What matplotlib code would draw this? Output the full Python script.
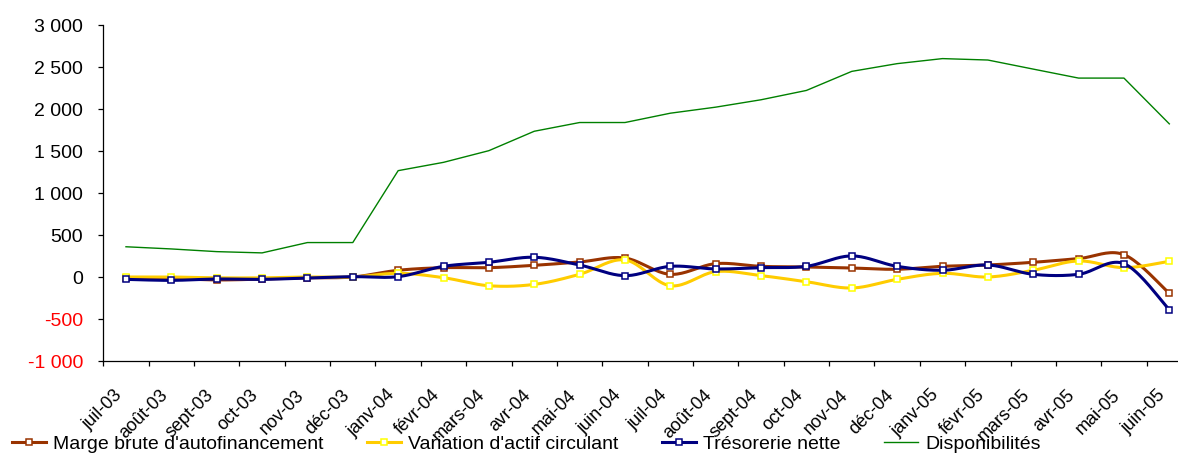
import matplotlib
matplotlib.use("Agg")
import matplotlib.pyplot as plt
import matplotlib.transforms as mtransforms
import numpy as np
from matplotlib.lines import Line2D

plt.rcParams["font.family"] = ["Liberation Sans", "DejaVu Sans"]

months = [
    "juil-03", "août-03", "sept-03", "oct-03", "nov-03", "déc-03",
    "janv-04", "févr-04", "mars-04", "avr-04", "mai-04", "juin-04",
    "juil-04", "août-04", "sept-04", "oct-04", "nov-04", "déc-04",
    "janv-05", "févr-05", "mars-05", "avr-05", "mai-05", "juin-05",
]

marge = [-10, -20, -35, -25, -10, 0, 80, 111, 111, 139, 179, 226,
         32, 159, 127, 119, 107, 92, 127, 143, 175, 219, 266, -195]
variation = [0, 0, -10, -10, 0, 0, 44, -8, -104, -88, 32, 203,
             -104, 64, 16, -56, -131, -28, 44, 0, 80, 191, 111, 187]
tresorerie = [-28, -40, -24, -28, -12, 4, 4, 127, 175, 235, 143, 16,
              127, 96, 111, 127, 251, 127, 80, 143, 32, 32, 159, -390]
disponibilites = [360, 334, 302, 287, 410, 410, 1266, 1365, 1504, 1735, 1839, 1839,
                  1950, 2022, 2110, 2221, 2448, 2540, 2600, 2583, 2475, 2368, 2368, 1823]

series_names = ["Marge brute d'autofinancement", "Variation d'actif circulant",
                "Trésorerie nette", "Disponibilités"]

N = 20  # samples per segment of the smoothed curves
FS = 14       # y labels and legend
FS_X = 13     # month labels


def smooth(values, n=N):
    # Catmull-Rom style bezier through every point (like spreadsheet "smoothed line")
    y = np.asarray(values, dtype=float)
    x = np.arange(len(y), dtype=float)
    px = np.concatenate([[x[0]], x, [x[-1]]])
    py = np.concatenate([[y[0]], y, [y[-1]]])
    t = np.linspace(0, 1, n, endpoint=False)
    xs, ys = [], []
    for i in range(len(y) - 1):
        p0 = np.array([px[i], py[i]])
        p1 = np.array([px[i + 1], py[i + 1]])
        p2 = np.array([px[i + 2], py[i + 2]])
        p3 = np.array([px[i + 3], py[i + 3]])
        c1 = p1 + (p2 - p0) / 6
        c2 = p2 - (p3 - p1) / 6
        for p in (0, 1):
            b = ((1 - t) ** 3 * p1[p] + 3 * (1 - t) ** 2 * t * c1[p]
                 + 3 * (1 - t) * t ** 2 * c2[p] + t ** 3 * p2[p])
            (xs if p == 0 else ys).append(b)
    xs = np.concatenate(xs + [[x[-1]]])
    ys = np.concatenate(ys + [[y[-1]]])
    return xs, ys


W, H = 1178, 453
fig = plt.figure(figsize=(W / 100, H / 100), dpi=100)
ax = fig.add_axes([103.3 / W, 1 - 361 / H, (1192 - 103.3) / W, (361 - 25) / H])

styles = [
    dict(color="#993300", mec="#993300"),
    dict(color="#FFCC00", mec="#FFFF00"),
    dict(color="#000080", mec="#000080"),
]
handles = []
for vals, st in zip([marge, variation, tresorerie], styles):
    xs, ys = smooth(vals)
    ax.plot(xs, ys, color=st["color"], lw=2.2, marker="s", markevery=N,
            markersize=4.2, mfc="white", mec=st["mec"], mew=1.1,
            solid_capstyle="round")
    handles.append(Line2D([], [], color=st["color"], lw=2.2, marker="s",
                          markersize=4.2, mfc="white", mec=st["mec"], mew=1.1))

ax.plot(np.arange(len(months)), disponibilites, color="#008000", lw=1.0)
handles.append(Line2D([], [], color="#008000", lw=1.0))

ax.set_xlim(-0.5, len(months) - 0.5)
ax.set_ylim(-1000, 3000)

for side in ["top", "right"]:
    ax.spines[side].set_visible(False)
for side in ["left", "bottom"]:
    ax.spines[side].set_linewidth(0.9)

# category labels centred on points, tick marks between categories
ax.set_xticks(np.arange(len(months)))
ax.set_xticklabels(months, rotation=45, ha="right", va="baseline",
                   rotation_mode="anchor", fontsize=FS_X)
ax.set_xticks(np.arange(-0.5, len(months), 1), minor=True)
ax.tick_params(axis="x", which="major", length=0, pad=25)
ax.tick_params(axis="x", which="minor", length=3.6, width=0.9, direction="out")
shift = mtransforms.ScaledTranslation(-3 / 100, 0, fig.dpi_scale_trans)
for lab in ax.get_xticklabels():
    lab.set_transform(lab.get_transform() + shift)

yticks = np.arange(-1000, 3001, 500)
ax.set_yticks(yticks)
ax.set_yticklabels([f"{v:,}".replace(",", " ") for v in yticks], fontsize=FS)
ax.tick_params(axis="y", length=3.6, width=0.9, direction="out", pad=11)
for lab, v in zip(ax.get_yticklabels(), yticks):
    if v < 0:
        lab.set_color("red")

fig.legend(handles, series_names, loc="center left",
           bbox_to_anchor=(12 / W, 9 / H), ncol=4, frameon=False, fontsize=FS,
           handlelength=1.75, handletextpad=0.35, columnspacing=2.25,
           borderaxespad=0, borderpad=0)

fig.savefig("out.png", dpi=100)
